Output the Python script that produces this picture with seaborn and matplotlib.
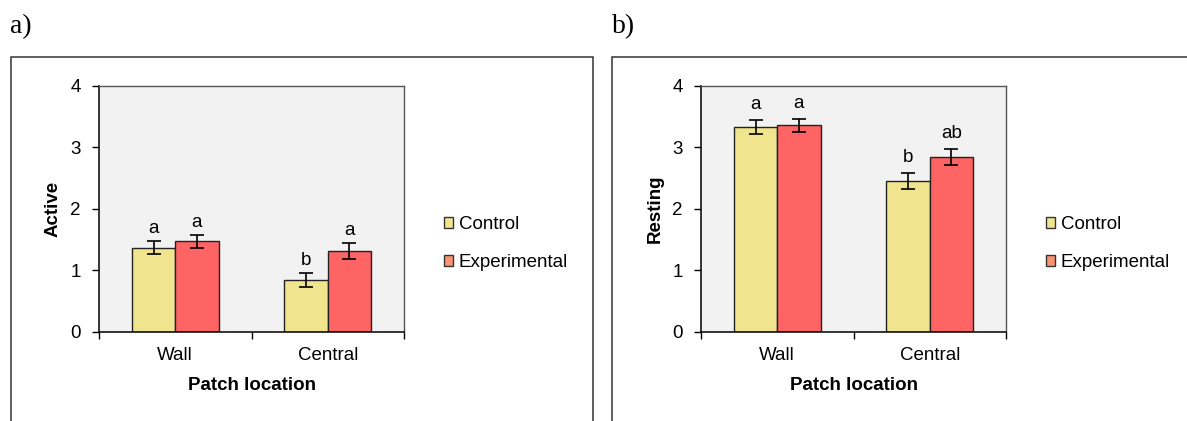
import numpy as np
import pandas as pd
import matplotlib
matplotlib.use("Agg")
import matplotlib.pyplot as plt
from matplotlib.patches import Patch, Rectangle
import seaborn as sns

# ---- data -------------------------------------------------------------
locations = ["Wall", "Central"]
groups = ["Control", "Experimental"]

active_control = [1.37, 0.84]
active_experimental = [1.47, 1.31]
active_control_se = [0.10, 0.12]
active_experimental_se = [0.11, 0.13]
active_control_letters = ["a", "b"]
active_experimental_letters = ["a", "a"]

resting_control = [3.33, 2.45]
resting_experimental = [3.36, 2.85]
resting_control_se = [0.11, 0.13]
resting_experimental_se = [0.11, 0.13]
resting_control_letters = ["a", "b"]
resting_experimental_letters = ["a", "ab"]

y_ticks = [0, 1, 2, 3, 4]
panel_tags = ["a)", "b)"]

# ---- styling ----------------------------------------------------------
sns.set_style("white")
plt.rcParams["font.family"] = ["Liberation Sans", "DejaVu Sans"]
plt.rcParams["font.size"] = 13.5
for key in ["text.color", "axes.labelcolor", "xtick.color", "ytick.color"]:
    plt.rcParams[key] = "black"

bar_colors = {"Control": "#F0E48F", "Experimental": "#FF6464"}
legend_colors = {"Control": "#F0E48F", "Experimental": "#FA9374"}
FS = 13.5

W, H = 1187, 421
fig = plt.figure(figsize=(W / 100, H / 100), dpi=100)


def frac_x(px):
    return px / W


def frac_y(px):
    return (H - px) / H


def build_frame(ctrl, exp, ctrl_se, exp_se, ctrl_let, exp_let):
    rows = []
    for loc, v, e, l in zip(locations, ctrl, ctrl_se, ctrl_let):
        rows.append({"location": loc, "group": "Control", "value": v, "se": e, "letter": l})
    for loc, v, e, l in zip(locations, exp, exp_se, exp_let):
        rows.append({"location": loc, "group": "Experimental", "value": v, "se": e, "letter": l})
    return pd.DataFrame(rows)


panels = [
    (build_frame(active_control, active_experimental, active_control_se,
                 active_experimental_se, active_control_letters,
                 active_experimental_letters), "Active", 99, 444, 8),
    (build_frame(resting_control, resting_experimental, resting_control_se,
                 resting_experimental_se, resting_control_letters,
                 resting_experimental_letters), "Resting", 701, 1046, 11),
]

frame_lefts = [10.7, 612.3]
frame_rights = [593.3, 1200]
tag_x = [10, 612]

for i, (df, ylabel, ax_left, leg_x, letter_gap) in enumerate(panels):
    # outer panel frame
    fig.patches.append(Rectangle(
        (frac_x(frame_lefts[i]), frac_y(430)),
        frac_x(frame_rights[i] - frame_lefts[i]), (430 - 56.7) / H,
        transform=fig.transFigure, fill=False, edgecolor="#333333",
        linewidth=1.1, zorder=0))
    fig.text(frac_x(tag_x[i]), frac_y(33), panel_tags[i],
             family=["Liberation Serif", "DejaVu Serif"], fontsize=20,
             ha="left", va="baseline")

    ax = fig.add_axes([frac_x(ax_left), frac_y(331.7), 305 / W, 245.7 / H])
    ax.set_facecolor("#F2F2F2")

    sns.barplot(data=df, x="location", y="value", hue="group",
                order=locations, hue_order=groups, palette=bar_colors,
                saturation=1, width=0.57, errorbar=None,
                edgecolor="#222222", linewidth=1.0, ax=ax, legend=False)

    # error bars and significance letters on top of each bar
    for grp, container in zip(groups, ax.containers):
        sub = df[df["group"] == grp].set_index("location").loc[locations]
        for bar, se, letter in zip(container, sub["se"], sub["letter"]):
            cx = bar.get_x() + bar.get_width() / 2
            h = bar.get_height()
            ax.errorbar(cx, h, yerr=se, fmt="none", ecolor="black",
                        elinewidth=1.2, capsize=5, capthick=1.2, zorder=3)
            ax.annotate(letter, (cx, h + se), xytext=(0, letter_gap * 0.72),
                        textcoords="offset points", ha="center",
                        va="baseline", fontsize=FS)

    ax.set_ylim(0, 4)
    ax.set_xlim(-0.5, 1.5)
    ax.set_yticks(y_ticks)
    ax.set_xticks(range(len(locations)))
    ax.set_xticklabels(locations)
    ax.set_xticks([-0.5, 0.5, 1.5], minor=True)
    ax.tick_params(axis="x", which="major", length=0, pad=11, labelsize=FS)
    ax.tick_params(axis="x", which="minor", length=5, width=1,
                   direction="out", color="black", bottom=True)
    ax.tick_params(axis="y", length=5, width=1, direction="out",
                   color="black", left=True, pad=8, labelsize=FS)

    ax.set_xlabel("Patch location", fontweight="bold", fontsize=FS,
                  labelpad=9.5)
    ax.set_ylabel(ylabel, fontweight="bold", fontsize=FS, labelpad=6.5)

    for side in ["left", "bottom"]:
        ax.spines[side].set_color("black")
        ax.spines[side].set_linewidth(1.1)
    for side in ["top", "right"]:
        ax.spines[side].set_color("#555555")
        ax.spines[side].set_linewidth(1.0)

    handles = [Patch(facecolor=legend_colors[g], edgecolor="#333333",
                     linewidth=1.0) for g in groups]
    fig.legend(handles, groups, loc="center left",
               bbox_to_anchor=(frac_x(leg_x), frac_y(243.5)),
               bbox_transform=fig.transFigure, frameon=False, fontsize=FS,
               handlelength=0.5, handleheight=0.5, handletextpad=0.3,
               labelspacing=1.1, borderpad=0, borderaxespad=0)

fig.savefig("out.png", dpi=100)
